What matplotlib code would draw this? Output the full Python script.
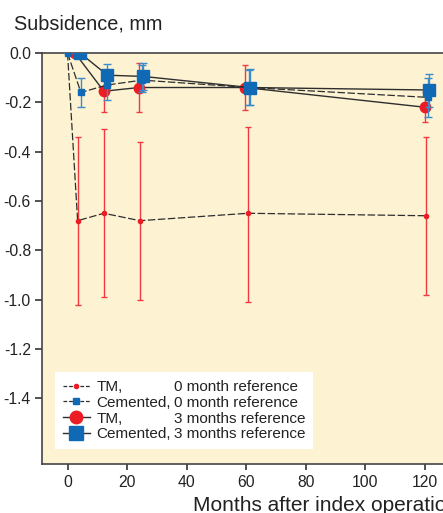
import numpy as np
import matplotlib
matplotlib.use("Agg")
import matplotlib.pyplot as plt
from matplotlib.lines import Line2D

plt.rcParams['font.family'] = ['Liberation Sans', 'DejaVu Sans']
plt.rcParams['axes.unicode_minus'] = False

# TM, 0 month reference
tm0_x = [0, 3.4, 12.2, 24.3, 60.5, 120.3]
tm0_y = [0.0, -0.68, -0.65, -0.68, -0.65, -0.66]
tm0_lo = [0.0, -1.02, -0.99, -1.00, -1.01, -0.98]
tm0_hi = [0.0, -0.34, -0.31, -0.36, -0.30, -0.34]

# Cemented, 0 month reference
cem0_x = [0, 4.5, 13.2, 25.0, 61.0, 121.0]
cem0_y = [0.0, -0.16, -0.13, -0.11, -0.14, -0.18]
cem0_lo = [0.0, -0.22, -0.19, -0.16, -0.21, -0.26]
cem0_hi = [0.0, -0.10, -0.07, -0.05, -0.07, -0.10]

# TM, 3 months reference
tm3_x = [2.5, 12.2, 24.0, 59.6, 120.0]
tm3_y = [0.0, -0.155, -0.14, -0.14, -0.22]
tm3_lo = [0.0, -0.24, -0.24, -0.23, -0.28]
tm3_hi = [0.0, -0.08, -0.04, -0.05, -0.16]

# Cemented, 3 months reference
cem3_x = [4.2, 13.4, 25.4, 61.2, 121.2]
cem3_y = [0.0, -0.09, -0.095, -0.14, -0.15]
cem3_lo = [0.0, -0.13, -0.15, -0.21, -0.22]
cem3_hi = [0.0, -0.045, -0.04, -0.066, -0.085]

x_ticks = [0, 20, 40, 60, 80, 100, 120]
y_ticks = [0.0, -0.2, -0.4, -0.6, -0.8, -1.0, -1.2, -1.4]

RED = '#EC1C24'
RED_ERR = '#EE3B3F'
BLUE = '#0F69B4'
BLUE_ERR = '#3A8CCB'
LINE = '#2e2e2e'
BG = '#FDF3D3'


def yerr(y, lo, hi):
    y = np.array(y)
    return [y - np.array(lo), np.array(hi) - y]


fig = plt.figure(figsize=(4.43, 5.13), dpi=100)
# axes runs past the right edge of the figure, as in the cropped original
ax = fig.add_axes([42 / 443, 48.7 / 513, 412.8 / 443, 411.3 / 513])
ax.set_facecolor(BG)

ax.errorbar(tm0_x, tm0_y, yerr=yerr(tm0_y, tm0_lo, tm0_hi), fmt='none',
            ecolor=RED_ERR, elinewidth=1.0, capsize=2.3, capthick=1.0, zorder=2)
ax.plot(tm0_x, tm0_y, color=LINE, lw=0.9, dashes=(6, 2), marker='o',
        ms=3, mfc=RED, mec=RED, zorder=3, label='TM,')

ax.errorbar(tm3_x, tm3_y, yerr=yerr(tm3_y, tm3_lo, tm3_hi), fmt='none',
            ecolor=RED_ERR, elinewidth=1.0, capsize=2.3, capthick=1.0, zorder=2)
ax.plot(tm3_x, tm3_y, color=LINE, lw=1.0, marker='o',
        ms=7.5, mfc=RED, mec=RED, zorder=3, label='TM,')

ax.errorbar(cem0_x, cem0_y, yerr=yerr(cem0_y, cem0_lo, cem0_hi), fmt='none',
            ecolor=BLUE_ERR, elinewidth=1.0, capsize=2.6, capthick=1.0, zorder=4)
ax.plot(cem0_x, cem0_y, color=LINE, lw=0.9, dashes=(6, 2), marker='s',
        ms=4.5, mfc=BLUE, mec=BLUE, zorder=5, label='Cemented,')

ax.errorbar(cem3_x, cem3_y, yerr=yerr(cem3_y, cem3_lo, cem3_hi), fmt='none',
            ecolor=BLUE_ERR, elinewidth=1.0, capsize=2.6, capthick=1.0, zorder=4)
ax.plot(cem3_x, cem3_y, color=LINE, lw=1.0, marker='s',
        ms=8.5, mfc=BLUE, mec=BLUE, zorder=5, label='Cemented,')

ax.set_xlim(-8.56, 130)
ax.set_ylim(-1.668, 0)
ax.set_xticks(x_ticks)
ax.set_yticks(y_ticks)
ax.set_yticklabels([f'{v:.1f}' for v in y_ticks])
ax.tick_params(labelsize=11.3, colors='#222222', width=1.1, length=4.5, pad=3)
ax.tick_params(axis='y', length=5)
for s in ['left', 'bottom', 'top']:
    ax.spines[s].set_color('#444444')
    ax.spines[s].set_linewidth(1.2)
ax.spines['right'].set_visible(False)

ax.set_xlabel('Months after index operation', fontsize=15, color='#222222')
ax.xaxis.set_label_coords((192.7 - 42) / 412.8, -0.077)
ax.xaxis.label.set_horizontalalignment('left')

fig.text(14 / 443, 1 - 30 / 513, 'Subsidence, mm', fontsize=14.3,
         color='#222222', va='baseline', ha='left')

# legend: first column handles + group name, second column the reference text
h_tm0 = Line2D([], [], color=LINE, lw=0.9, dashes=(3, 1.5), marker='o', ms=3, mfc=RED, mec=RED)
h_cem0 = Line2D([], [], color=LINE, lw=0.9, dashes=(3, 1.5), marker='s', ms=4.5, mfc=BLUE, mec=BLUE)
h_tm3 = Line2D([], [], color=LINE, lw=1.0, marker='o', ms=9, mfc=RED, mec=RED)
h_cem3 = Line2D([], [], color=LINE, lw=1.0, marker='s', ms=10, mfc=BLUE, mec=BLUE)
blank = Line2D([], [], color='none')
handles = [h_tm0, h_cem0, h_tm3, h_cem3, blank, blank, blank, blank]
labels = ['TM,', 'Cemented,', 'TM,', 'Cemented,',
          '0 month reference', '0 month reference',
          '3 months reference', '3 months reference']
leg = ax.legend(handles, labels, ncol=2, loc='upper left',
                bbox_to_anchor=(13 / 412.8, (464.3 - 372.3) / 411.3),
                borderaxespad=0, fontsize=11, handlelength=1.8, handletextpad=0.4,
                columnspacing=-2.0, labelspacing=0.12, borderpad=0.5,
                frameon=True, fancybox=False, framealpha=1)
leg.get_frame().set_facecolor('white')
leg.get_frame().set_edgecolor('none')
for t in leg.get_texts():
    t.set_color('#222222')

fig.savefig('out.png', dpi=100, facecolor='white')
